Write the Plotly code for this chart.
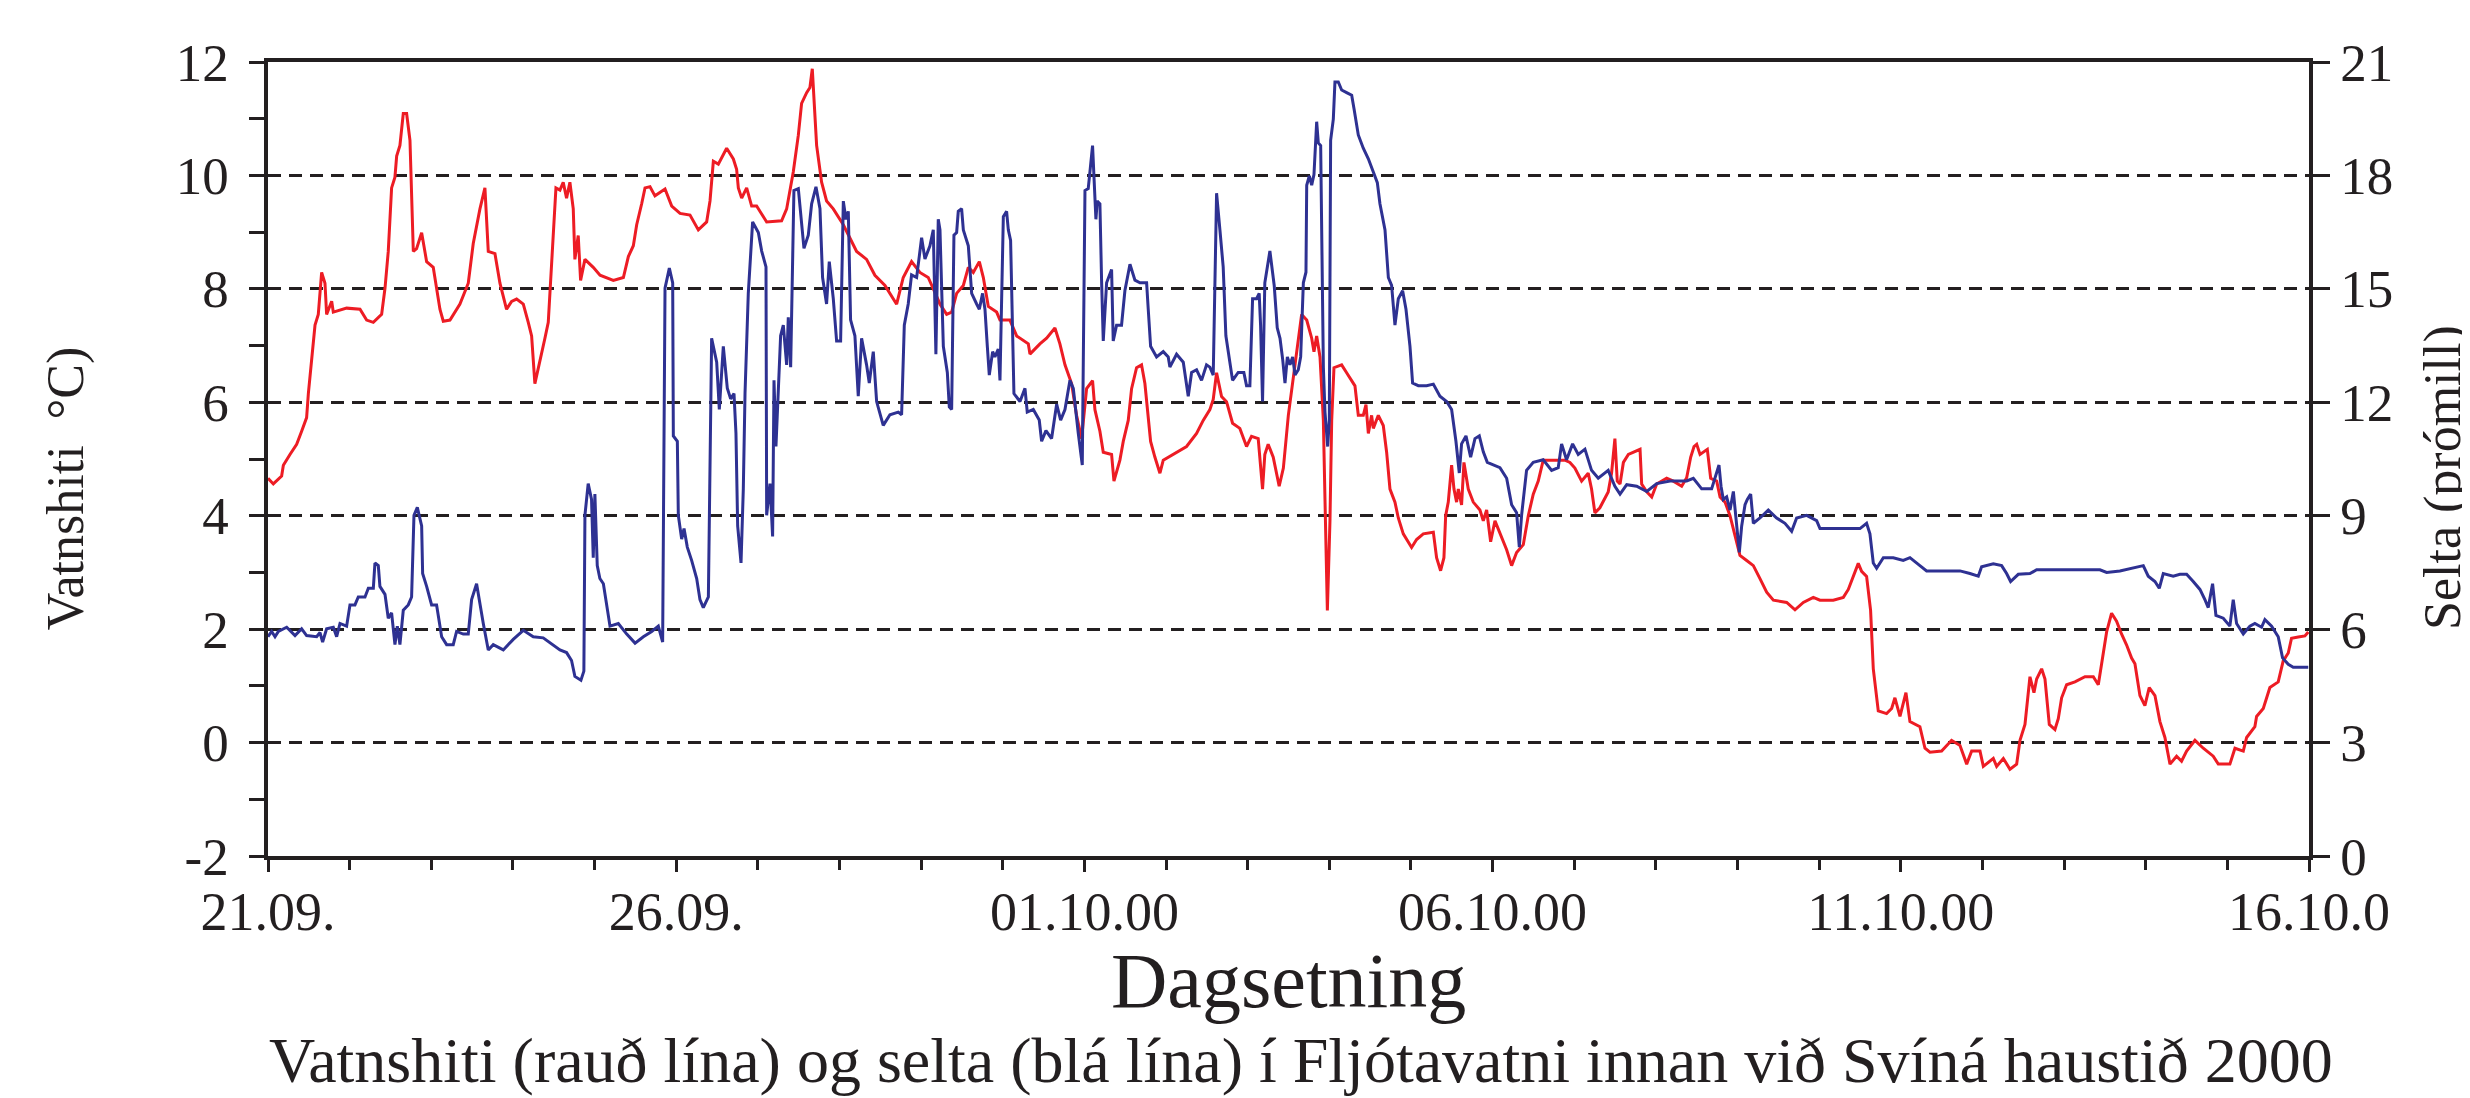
import pandas as pd
import plotly.graph_objects as go

START = "2000-09-21"

# Water temperature (°C): time as days after 21.09.2000 00:00
temp_days = [
    0.000, 0.065, 0.167, 0.188, 0.269, 0.351, 0.412, 0.473, 0.494, 0.535, 0.576, 0.616, 0.657, 0.698, 0.718,
    0.780, 0.800, 0.963, 1.127, 1.208, 1.290, 1.392, 1.433, 1.473, 1.514, 1.555, 1.576, 1.616, 1.657, 1.698,
    1.739, 1.780, 1.820, 1.882, 1.943, 2.024, 2.106, 2.147, 2.229, 2.351, 2.453, 2.514, 2.596, 2.657, 2.698,
    2.780, 2.841, 2.922, 2.984, 3.045, 3.127, 3.188, 3.229, 3.269, 3.331, 3.392, 3.433, 3.473, 3.527, 3.576,
    3.616, 3.657, 3.698, 3.739, 3.759, 3.800, 3.829, 3.882, 3.984,
    4.067, 4.230, 4.353, 4.414, 4.475, 4.516, 4.577, 4.618, 4.679, 4.740, 4.863, 4.945, 5.047, 5.169, 5.271,
    5.373, 5.414, 5.455, 5.516, 5.618, 5.700, 5.740, 5.761, 5.802, 5.863, 5.924, 5.985, 6.108, 6.291, 6.353,
    6.434, 6.496, 6.536, 6.598, 6.638, 6.667, 6.720, 6.781, 6.842, 6.924, 7.047, 7.128, 7.210, 7.332, 7.434,
    7.557, 7.638, 7.700, 7.781, 7.883, 7.985, 8.087, 8.189,
    8.231, 8.313, 8.374, 8.435, 8.517, 8.578, 8.639, 8.713, 8.762, 8.823, 8.925, 8.966, 9.088, 9.170, 9.313,
    9.333, 9.455, 9.537, 9.639, 9.700, 9.762, 9.843, 9.904, 9.966, 10.027, 10.100, 10.129, 10.190, 10.231,
    10.333, 10.362, 10.435, 10.476, 10.537, 10.578, 10.639, 10.700, 10.741, 10.811, 10.864, 10.925, 10.966,
    11.088, 11.251, 11.374, 11.455, 11.537, 11.578, 11.619, 11.680, 11.741, 11.815, 11.904, 11.986, 12.047,
    12.129, 12.182, 12.210, 12.251, 12.313, 12.386,
    12.437, 12.498, 12.559, 12.620, 12.661, 12.723, 12.784, 12.812, 12.845, 12.886, 12.927, 12.947, 12.976,
    13.008, 13.029, 13.057, 13.151, 13.212, 13.314, 13.355, 13.416, 13.449, 13.478, 13.518, 13.539, 13.600,
    13.661, 13.702, 13.743, 13.804, 13.845, 13.906, 14.008, 14.069, 14.151, 14.274, 14.314, 14.363, 14.404,
    14.425, 14.457, 14.498, 14.527, 14.559, 14.580, 14.620, 14.649, 14.702, 14.763, 14.845, 14.886, 14.927,
    14.976, 15.029, 15.090, 15.172, 15.233, 15.294, 15.376, 15.437, 15.498, 15.559, 15.620, 15.743, 15.886,
    15.947, 16.008, 16.090, 16.171, 16.212, 16.253, 16.314, 16.416, 16.457, 16.498, 16.527,
    16.561, 16.602, 16.663, 16.806, 16.826, 16.888, 16.949, 17.010, 17.132, 17.214, 17.316, 17.377, 17.426,
    17.467, 17.500, 17.541, 17.630, 17.671, 17.745, 17.786, 17.847, 17.908, 17.969, 18.030, 18.112, 18.194,
    18.275, 18.357, 18.439, 18.602, 18.704, 18.806, 18.928, 19.010, 19.173, 19.296, 19.357, 19.418, 19.479,
    19.520, 19.581, 19.630, 19.663, 19.724, 19.826, 19.888, 19.928, 19.990, 20.063, 20.112, 20.234, 20.296,
    20.357, 20.500, 20.622,
    20.725, 20.807, 20.868, 20.970, 21.011, 21.133, 21.174, 21.256, 21.337, 21.419, 21.460, 21.521, 21.582,
    21.631, 21.664, 21.725, 21.766, 21.819, 21.888, 21.929, 21.970, 22.031, 22.133, 22.256, 22.358, 22.419,
    22.460, 22.521, 22.582, 22.643, 22.705, 22.766, 22.827, 22.868, 22.929, 22.990, 23.043, 23.113, 23.174,
    23.235, 23.297, 23.378, 23.439, 23.501, 23.603, 23.705, 23.827, 23.889, 24.031, 24.093, 24.195, 24.236,
    24.337, 24.358, 24.440, 24.521, 24.623, 24.684, 24.746, 24.786, 24.868, 24.950, 24.991,
]
temp_c = [
    4.66, 4.56, 4.70, 4.89, 5.08, 5.26, 5.49, 5.73, 6.15, 6.80, 7.36, 7.55, 8.29, 8.10, 7.55,
    7.78, 7.59, 7.66, 7.64, 7.45, 7.41, 7.55, 8.01, 8.66, 9.78, 9.97, 10.34, 10.53, 11.09, 11.09,
    10.62, 8.66, 8.71, 8.99, 8.48, 8.38, 7.64, 7.43, 7.45, 7.73, 8.10, 8.80, 9.41, 9.78, 8.66,
    8.62, 8.10, 7.64, 7.78, 7.82, 7.73, 7.41, 7.17, 6.33, 6.71, 7.13, 7.41, 8.48, 9.78, 9.74,
    9.88, 9.60, 9.88, 9.41, 8.52, 8.94, 8.15, 8.52, 8.38,
    8.24, 8.15, 8.20, 8.57, 8.76, 9.13, 9.50, 9.78, 9.80, 9.64, 9.76, 9.46, 9.33, 9.30, 9.04,
    9.18, 9.55, 10.25, 10.20, 10.48, 10.29, 10.11, 9.78, 9.60, 9.78, 9.46, 9.46, 9.18, 9.20, 9.41,
    10.06, 10.71, 11.27, 11.46, 11.55, 11.88, 10.53, 9.88, 9.55, 9.41, 9.13, 8.90, 8.66, 8.52, 8.24,
    8.06, 7.87, 7.73, 8.20, 8.48, 8.29, 8.20, 7.87,
    7.73, 7.55, 7.59, 7.92, 8.06, 8.38, 8.29, 8.48, 8.20, 7.69, 7.59, 7.45, 7.45, 7.17, 7.03,
    6.85, 7.03, 7.13, 7.31, 7.03, 6.66, 6.33, 5.77, 5.36, 6.24, 6.38, 5.87, 5.49, 5.12,
    5.08, 4.61, 4.98, 5.31, 5.68, 6.24, 6.61, 6.66, 6.33, 5.31, 5.03, 4.75, 4.98,
    5.08, 5.22, 5.45, 5.68, 5.87, 6.05, 6.52, 6.10, 6.01, 5.63, 5.54, 5.22, 5.40,
    5.36, 4.47, 5.08, 5.26, 5.03, 4.52,
    4.84, 5.77, 6.43, 7.17, 7.55, 7.45, 7.13, 6.89, 7.17, 6.80, 5.68, 4.28, 2.33,
    3.91, 5.68, 6.61, 6.66, 6.52, 6.29, 5.77, 5.77, 5.96, 5.45, 5.77, 5.54, 5.77,
    5.59, 5.12, 4.47, 4.24, 3.96, 3.68, 3.44, 3.58, 3.68, 3.71, 3.26, 3.03, 3.26,
    4.00, 4.24, 4.89, 4.47, 4.24, 4.47, 4.19, 4.94, 4.47, 4.24, 4.10, 3.91, 4.10,
    3.54, 3.91, 3.68, 3.40, 3.12, 3.35, 3.49, 4.00, 4.38, 4.61, 4.98, 4.98, 4.98,
    4.94, 4.84, 4.61, 4.75, 4.47, 4.05, 4.14, 4.42, 4.75, 5.36, 4.61,
    4.56, 4.94, 5.08, 5.17, 4.56, 4.42, 4.33, 4.56, 4.66, 4.61, 4.52, 4.67, 5.03,
    5.22, 5.26, 5.08, 5.17, 4.66, 4.61, 4.33, 4.24, 4.00, 3.63, 3.30, 3.21, 3.12,
    2.89, 2.65, 2.51, 2.47, 2.34, 2.47, 2.56, 2.51, 2.51, 2.56, 2.70, 2.93, 3.16,
    3.02, 2.93, 2.33, 1.30, 0.56, 0.51, 0.60, 0.79, 0.46, 0.88, 0.37, 0.28, -0.10,
    -0.17, -0.15, 0.04,
    -0.05, -0.38, -0.15, -0.15, -0.42, -0.28, -0.42, -0.28, -0.47, -0.38, 0.04, 0.32, 1.16,
    0.88, 1.12, 1.30, 1.12, 0.32, 0.23, 0.42, 0.79, 1.02, 1.07, 1.16, 1.16, 1.02,
    1.39, 1.95, 2.28, 2.14, 1.91, 1.72, 1.49, 1.39, 0.83, 0.65, 0.97, 0.83, 0.37,
    0.09, -0.38, -0.24, -0.33, -0.15, 0.04, -0.10, -0.24, -0.38, -0.38, -0.10, -0.15, 0.09,
    0.28, 0.46, 0.60, 0.97, 1.07, 1.44, 1.58, 1.84, 1.86, 1.88, 1.95,
]

# Salinity (per mille): time as days after 21.09.2000 00:00
sal_days = [
    0.000, 0.045, 0.086, 0.127, 0.229, 0.331, 0.412, 0.473, 0.596, 0.637, 0.669, 0.718, 0.800, 0.841, 0.882,
    0.963, 1.004, 1.065, 1.106, 1.188, 1.229, 1.290, 1.310, 1.351, 1.371, 1.433, 1.473, 1.514, 1.555, 1.584,
    1.616, 1.657, 1.718, 1.759, 1.788, 1.829, 1.882, 1.894, 1.943, 2.004, 2.065, 2.127, 2.188, 2.269, 2.310,
    2.392, 2.453, 2.494, 2.555, 2.596, 2.637, 2.698, 2.759, 2.882, 3.004, 3.127, 3.249, 3.371, 3.494, 3.576,
    3.657, 3.718, 3.759, 3.833, 3.869, 3.882, 3.922, 3.963, 3.984, 4.004, 4.033,
    4.065, 4.108, 4.149, 4.189, 4.291, 4.394, 4.496, 4.598, 4.700, 4.781, 4.834, 4.863, 4.916, 4.957, 4.965,
    5.014, 5.026, 5.067, 5.096, 5.136, 5.189, 5.251, 5.291, 5.332, 5.394, 5.434, 5.496, 5.528, 5.577, 5.626,
    5.667, 5.708, 5.732, 5.753, 5.794, 5.822, 5.843, 5.883, 5.936, 6.006, 6.047, 6.100, 6.108, 6.149, 6.181,
    6.198, 6.222, 6.251, 6.279, 6.312, 6.353, 6.373, 6.402, 6.442, 6.496, 6.565, 6.618, 6.659, 6.712, 6.761,
    6.793, 6.842, 6.875, 6.924, 6.965, 7.014, 7.047, 7.079, 7.108, 7.136, 7.189, 7.230, 7.271, 7.332, 7.365,
    7.414, 7.455, 7.536, 7.618, 7.720, 7.761, 7.794, 7.842, 7.883, 7.945, 8.006, 8.047, 8.108, 8.149, 8.181,
    8.210,
    8.231, 8.272, 8.321, 8.345, 8.374, 8.402, 8.435, 8.455, 8.496, 8.517, 8.578, 8.619, 8.680, 8.713, 8.753,
    8.782, 8.811, 8.835, 8.876, 8.904, 8.945, 8.966, 9.007, 9.047, 9.068, 9.096, 9.137, 9.211, 9.272, 9.300,
    9.374, 9.447, 9.476, 9.529, 9.598, 9.660, 9.709, 9.762, 9.823, 9.864, 9.925, 9.974, 10.007, 10.047,
    10.100, 10.121, 10.141, 10.157, 10.190, 10.211, 10.231, 10.272, 10.333, 10.353, 10.394, 10.455, 10.496,
    10.558, 10.619, 10.680, 10.762, 10.782, 10.811, 10.884, 10.966, 11.027, 11.047, 11.129, 11.211, 11.272,
    11.313, 11.374, 11.435, 11.496, 11.537, 11.578, 11.619, 11.660, 11.700, 11.733, 11.774, 11.815, 11.884,
    11.953, 11.986, 12.027, 12.060, 12.109, 12.141, 12.158, 12.182, 12.210, 12.272, 12.325, 12.362,
    12.396, 12.429, 12.457, 12.486, 12.518, 12.551, 12.580, 12.620, 12.649, 12.682, 12.714, 12.723, 12.755,
    12.784, 12.812, 12.845, 12.865, 12.894, 12.927, 12.947, 12.980, 13.000, 13.016, 13.049, 13.069, 13.110,
    13.151, 13.212, 13.274, 13.302, 13.355, 13.416, 13.478, 13.539, 13.588, 13.620, 13.682, 13.723, 13.763,
    13.804, 13.845, 13.898, 13.939, 13.988, 14.020, 14.090, 14.192, 14.274, 14.355, 14.437, 14.498, 14.551,
    14.592, 14.620, 14.674, 14.731, 14.784, 14.837, 14.886, 14.935, 15.008, 15.090, 15.172, 15.233, 15.294,
    15.327, 15.355, 15.416, 15.498, 15.620, 15.723, 15.804, 15.845, 15.906, 15.980, 16.049, 16.131, 16.212,
    16.294, 16.416, 16.498,
    16.561, 16.643, 16.765, 16.888, 17.010, 17.173, 17.377, 17.459, 17.561, 17.683, 17.745, 17.773, 17.798,
    17.826, 17.867, 17.908, 17.949, 17.981, 18.022, 18.051, 18.092, 18.120, 18.161, 18.194, 18.275, 18.377,
    18.479, 18.581, 18.663, 18.724, 18.847, 18.969, 19.010, 19.173, 19.337, 19.500, 19.581, 19.622, 19.663,
    19.704, 19.786, 19.908, 20.030, 20.112, 20.234, 20.316, 20.480, 20.643,
    20.725, 20.847, 20.949, 20.990, 21.052, 21.133, 21.235, 21.296, 21.345, 21.439, 21.582, 21.664, 21.950,
    22.154, 22.439, 22.521, 22.684, 22.970, 23.031, 23.113, 23.166, 23.215, 23.337, 23.419, 23.501, 23.582,
    23.664, 23.725, 23.766, 23.819, 23.860, 23.950, 24.031, 24.072, 24.113, 24.195, 24.276, 24.337, 24.419,
    24.460, 24.542, 24.623, 24.676, 24.746, 24.807, 24.991,
]
sal_ppt = [
    5.80, 5.94, 5.80, 5.94, 6.05, 5.83, 6.01, 5.83, 5.80, 5.91, 5.66, 6.01, 6.05, 5.80, 6.15,
    6.08, 6.64, 6.64, 6.85, 6.85, 7.08, 7.08, 7.75, 7.68, 7.13, 6.92, 6.29, 6.43, 5.59, 6.08,
    5.59, 6.50, 6.64, 6.85, 9.01, 9.22, 8.73, 7.47, 7.13, 6.64, 6.64, 5.80, 5.59, 5.59, 5.94,
    5.87, 5.87, 6.78, 7.20, 6.64, 6.15, 5.45, 5.59, 5.45, 5.73, 5.97, 5.80, 5.77, 5.59, 5.45,
    5.38, 5.17, 4.75, 4.65, 4.89, 9.01, 9.85, 9.43, 7.89, 9.57, 7.68,
    7.34, 7.20, 6.64, 6.08, 6.15, 5.87, 5.63, 5.80, 5.94, 6.08, 5.66, 15.02, 15.55, 15.16, 11.11,
    10.97, 9.01, 8.38, 8.66, 8.17, 7.82, 7.34, 6.78, 6.57, 6.85, 13.69, 13.06, 11.81, 13.48, 12.37,
    12.09, 12.23, 11.18, 8.73, 7.75, 9.71, 12.23, 14.88, 16.77, 16.49, 16.00, 15.58, 9.01, 9.85, 8.45,
    12.58, 10.83, 12.30, 13.76, 14.04, 12.99, 14.25, 12.93, 17.60, 17.65, 16.07, 16.42, 17.25, 17.70, 17.12,
    15.30, 14.60, 15.72, 14.74, 13.62, 13.62, 17.32, 16.84, 17.05, 14.18, 13.76, 12.16, 13.69, 12.99, 12.51,
    13.34, 12.02, 11.39, 11.67, 11.74, 11.67, 14.04, 14.60, 15.37, 15.30, 16.35, 15.79, 16.14, 16.56, 13.27,
    16.84,
    16.56, 13.48, 12.79, 11.88, 11.81, 16.42, 16.49, 17.05, 17.12, 16.56, 16.14, 14.88, 14.60, 14.46, 14.88,
    14.46, 13.48, 12.72, 13.34, 13.20, 13.41, 12.58, 16.91, 17.05, 16.56, 16.28, 12.23, 12.02, 12.37, 11.74,
    11.81, 11.53, 10.97, 11.25, 11.04, 11.95, 11.53, 11.81, 12.58, 12.37, 11.18, 10.34, 17.60, 17.65,
    18.79, 17.53, 16.84, 17.32, 17.25, 15.16, 13.62, 15.16, 15.51, 13.62, 14.04, 14.04, 14.95,
    15.65, 15.23, 15.16, 15.16, 14.46, 13.48, 13.20, 13.34, 13.20, 12.93, 13.27, 13.06, 12.16,
    12.79, 12.86, 12.58, 12.99, 12.93, 12.72, 17.53, 16.56, 15.58, 13.76, 13.13, 12.58, 12.79,
    12.79, 12.44, 12.44, 14.74, 14.74, 14.88, 14.04, 12.02, 15.16, 16.00, 15.09, 13.97,
    13.69, 13.13, 12.51, 13.20, 12.99, 13.20, 12.72, 12.86, 13.20, 15.16, 15.44, 17.74, 17.99,
    17.74, 18.02, 19.42, 18.86, 18.79, 12.93, 11.74, 10.83, 11.53, 18.93, 19.49, 20.47, 20.47,
    20.26, 20.19, 20.12, 19.77, 19.07, 18.72, 18.44, 18.09, 17.81, 17.25, 16.56, 15.30, 15.09,
    14.04, 14.74, 14.95, 14.46, 13.48, 12.51, 12.44, 12.44, 12.48, 12.16, 12.02, 11.81, 10.97,
    10.13, 10.90, 11.11, 10.55, 11.04, 11.11, 10.69, 10.41, 10.34, 10.27, 9.99, 9.29, 9.08,
    8.17, 9.01, 10.20, 10.41, 10.48, 10.20, 10.27, 10.90, 10.48, 10.90, 10.62, 10.76, 10.20,
    9.99, 10.20, 9.78,
    9.57, 9.82, 9.78, 9.64, 9.85, 9.92, 9.92, 9.99, 9.71, 9.71, 10.13, 10.34, 9.78,
    9.43, 9.50, 9.15, 9.64, 9.01, 8.03, 8.73, 9.29, 9.43, 9.57, 8.80, 8.94, 9.15,
    8.94, 8.80, 8.59, 8.94, 9.01, 8.87, 8.66, 8.66, 8.66, 8.66, 8.80, 8.52, 7.75,
    7.61, 7.89, 7.89, 7.82, 7.89, 7.68, 7.54, 7.54, 7.54,
    7.54, 7.47, 7.40, 7.65, 7.68, 7.73, 7.68, 7.47, 7.26, 7.45, 7.47, 7.57, 7.57,
    7.57, 7.57, 7.50, 7.54, 7.68, 7.40, 7.26, 7.08, 7.47, 7.40, 7.45, 7.45, 7.26,
    7.05, 6.78, 6.57, 7.20, 6.36, 6.29, 6.08, 6.78, 6.15, 5.87, 6.08, 6.15, 6.05,
    6.25, 6.08, 5.80, 5.24, 5.07, 4.99, 4.99,
]

x_tick_dates = ["2000-09-21", "2000-09-26", "2000-10-01", "2000-10-06", "2000-10-11", "2000-10-16"]
x_tick_labels = ["21.09.", "26.09.", "01.10.00", "06.10.00", "11.10.00", "16.10.0"]
temp_ticks = [-2, 0, 2, 4, 6, 8, 10, 12]
temp_tick_labels = ["-2", "0", "2", "4", "6", "8", "10", "12"]
sal_ticks = [0, 3, 6, 9, 12, 15, 18, 21]

start = pd.Timestamp(START)
temp_time = start + pd.to_timedelta(temp_days, unit="D")
sal_time = start + pd.to_timedelta(sal_days, unit="D")

INK = "#231F20"
FONT = "Liberation Serif, Times New Roman, serif"

fig = go.Figure()
fig.add_trace(go.Scatter(x=temp_time, y=temp_c, mode="lines", name="Vatnshiti",
                         line=dict(color="#ED1C24", width=3), yaxis="y"))
fig.add_trace(go.Scatter(x=sal_time, y=sal_ppt, mode="lines", name="Selta",
                         line=dict(color="#2E3192", width=3), yaxis="y2"))

fig.update_layout(
    width=2470, height=1098,
    margin=dict(l=260, r=169, t=54, b=250),
    paper_bgcolor="white", plot_bgcolor="white",
    showlegend=False,
    font=dict(family=FONT, color=INK),
    xaxis=dict(
        type="date", range=[x_tick_dates[0], x_tick_dates[-1]],
        tickvals=x_tick_dates, ticktext=x_tick_labels,
        ticks="outside", ticklen=12, tickwidth=3, tickcolor=INK,
        tickfont=dict(size=54, family=FONT, color=INK),
        ticklabelstandoff=-7,
        showline=True, linewidth=4, linecolor=INK, mirror=True,
        showgrid=False, zeroline=False,
        minor=dict(dtick=86400000, tick0=x_tick_dates[0], ticks="outside",
                   ticklen=10, tickwidth=2.5, tickcolor=INK, showgrid=False),
    ),
    yaxis=dict(
        range=[-2, 12], tickvals=temp_ticks, ticktext=temp_tick_labels,
        ticks="outside", ticklen=15, tickwidth=3, tickcolor=INK,
        tickfont=dict(size=53, family=FONT, color=INK),
        ticklabelstandoff=10,
        showline=True, linewidth=3.5, linecolor=INK,
        showgrid=True, gridcolor=INK, gridwidth=3, griddash="13px,8px",
        zeroline=False,
        minor=dict(dtick=1, tick0=0, ticks="outside", ticklen=15, tickwidth=3,
                   tickcolor=INK, showgrid=False),
    ),
    yaxis2=dict(
        range=[0, 21], tickvals=sal_ticks, overlaying="y", side="right",
        ticks="outside", ticklen=17, tickwidth=3, tickcolor=INK,
        tickfont=dict(size=53, family=FONT, color=INK),
        showline=True, linewidth=3.5, linecolor=INK,
        showgrid=False, zeroline=False,
    ),
    annotations=[
        dict(text="Vatnshiti\u00a0\u00a0°C)", xref="paper", yref="paper", x=-0.099, y=0.463,
             textangle=-90, showarrow=False, xanchor="center", yanchor="middle",
             font=dict(size=52, family=FONT, color=INK)),
        dict(text="Selta (prómill)", xref="paper", yref="paper", x=1.066, y=0.477,
             textangle=-90, showarrow=False, xanchor="center", yanchor="middle",
             font=dict(size=52, family=FONT, color=INK)),
        dict(text="Dagsetning", xref="paper", yref="paper", x=0.5, y=-0.157,
             showarrow=False, xanchor="center", yanchor="middle",
             font=dict(size=78, family=FONT, color=INK)),
        dict(text="Vatnshiti (rauð lína) og selta (blá lína) í Fljótavatni innan við Svíná haustið 2000",
             xref="paper", yref="paper", x=0.506, y=-0.258,
             showarrow=False, xanchor="center", yanchor="middle",
             font=dict(size=64, family=FONT, color=INK)),
    ],
)

fig.write_html("out.html")
